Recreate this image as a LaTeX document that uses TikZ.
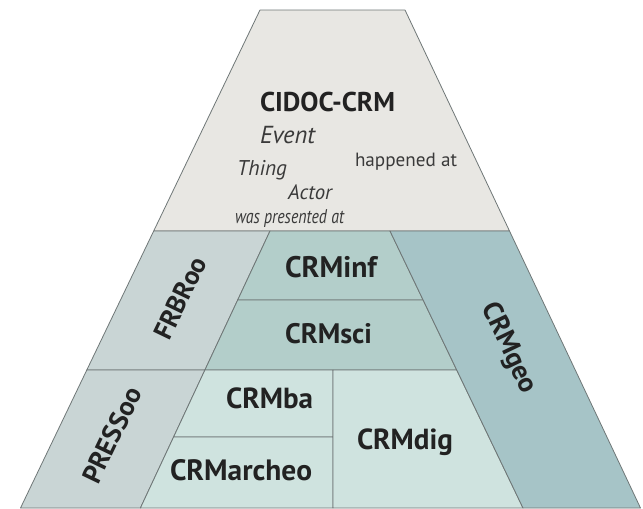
\documentclass[tikz,border=0pt]{standalone}
\usepackage{fontspec}
\setmainfont{PT Sans}
\usepackage{graphicx}
\definecolor{cidoc}{HTML}{E8E7E3}
\definecolor{frbr}{HTML}{C9D5D5}
\definecolor{inf}{HTML}{B3CECA}
\definecolor{ba}{HTML}{CFE3DF}
\definecolor{geo}{HTML}{A6C4C7}
\definecolor{edgecol}{HTML}{6F7777}
\definecolor{txtcol}{HTML}{222222}
\definecolor{itcol}{HTML}{3A3A3A}
\newcommand{\fitw}[2]{\resizebox{#1pt}{!}{#2}}
\begin{document}
\begin{tikzpicture}[x=1pt,y=-1pt,
  region/.style={draw=edgecol, line width=0.8pt, line join=round},
  lbl/.style={inner sep=0pt, outer sep=0pt, text=txtcol, font=\bfseries},
  itl/.style={inner sep=0pt, outer sep=0pt, text=itcol, font=\itshape},
  rgl/.style={inner sep=0pt, outer sep=0pt, text=itcol}]
\useasboundingbox (0,0) rectangle (643,509);
\fill[white] (0,0) rectangle (643,509);
% regions
\filldraw[region, fill=cidoc] (260,10) -- (405,10) -- (509.5,231) -- (153.7,231) -- cycle;
\filldraw[region, fill=frbr] (153.7,231) -- (270,231) -- (204.9,370) -- (86.8,370) -- cycle;
\filldraw[region, fill=frbr] (86.8,370) -- (204.9,370) -- (140.4,508) -- (20.5,508) -- cycle;
\filldraw[region, fill=inf] (270,231) -- (390,231) -- (423.1,300) -- (237.7,300) -- cycle;
\filldraw[region, fill=inf] (237.7,300) -- (423.1,300) -- (456.7,370) -- (204.9,370) -- cycle;
\filldraw[region, fill=ba] (204.9,370) -- (333,370) -- (333,437) -- (173.6,437) -- cycle;
\filldraw[region, fill=ba] (173.6,437) -- (333,437) -- (333,508) -- (140.4,508) -- cycle;
\filldraw[region, fill=ba] (333,370) -- (456.7,370) -- (523,508) -- (333,508) -- cycle;
\filldraw[region, fill=geo] (390,231) -- (509.5,231) -- (640.5,508) -- (523,508) -- cycle;
% CIDOC texts
\node[lbl, anchor=base west] (cidoc) at (260,111.5) {\fitw{135}{CIDOC-CRM}};
\node[itl, anchor=base west] (event) at (260,143) {\fitw{55}{Event}};
\node[itl, anchor=base west] (thing) at (237,175) {\fitw{50}{Thing}};
\node[itl, anchor=base west] (actor) at (288,199) {\fitw{44}{Actor}};
\node[itl, anchor=base west] (waspres) at (235,223) {\fitw{109}{\addfontfeature{FakeStretch=0.8}was presented at}};
\node[rgl, anchor=base west] (happ) at (355,166.7) {\fitw{102}{happened at}};
% box labels
\node[lbl, anchor=base west] (inf) at (285,277) {\fitw{92}{CRMinf}};
\node[lbl, anchor=base west] (sci) at (285,343) {\fitw{87}{CRMsci}};
\node[lbl, anchor=base west] (ba) at (226,408) {\fitw{87}{CRMba}};
\node[lbl, anchor=base west] (arch) at (170,480) {\fitw{142}{CRMarcheo}};
\node[lbl, anchor=base west] (dig) at (357,449) {\fitw{96}{CRMdig}};
\node[lbl, rotate=64.3] (frbroo) at (180,298) {\fitw{88}{FRBRoo}};
\node[lbl, rotate=64.3] (pressoo) at (112,435) {\fitw{103}{PRESSoo}};
\node[lbl, rotate=-64.5] (geo) at (508.5,348.5) {\fitw{97}{CRMgeo}};
\end{tikzpicture}
\end{document}
